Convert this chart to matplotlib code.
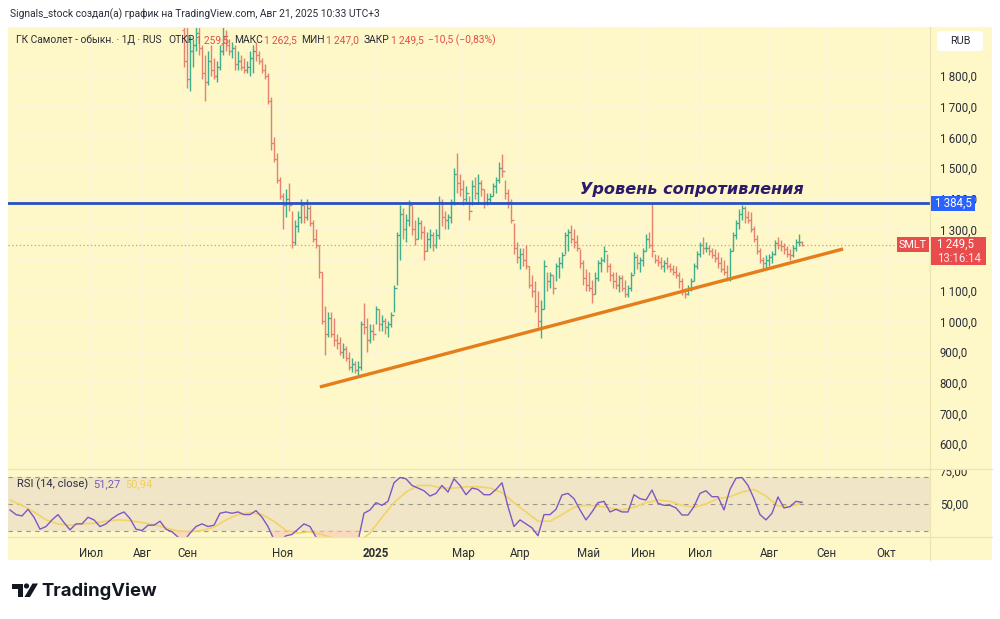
import numpy as np
import matplotlib
matplotlib.use("Agg")
import matplotlib.pyplot as plt
from matplotlib.patches import Rectangle, FancyBboxPatch, Polygon, Circle
from matplotlib.transforms import Affine2D
from matplotlib.lines import Line2D

plt.rcParams['font.family'] = ['Roboto', 'DejaVu Sans']

# ---- data (SMLT, daily) ----
FIRST_BAR = 58        # bar index of first visible price bar (early Sep 2024)
FIRST_OPEN = 1950.0
bar_high = [
    1990, 1960, 1930, 1920, 1990, 1980, 1900, 1870, 1880, 1900,
    1860, 1850, 1900, 1960, 1950, 1920, 1910, 1900, 1880, 1870,
    1860, 1850, 1880, 1900, 1910, 1880, 1860, 1840, 1810, 1730,
    1600, 1550, 1470, 1420, 1430, 1450, 1360, 1330, 1360, 1400,
    1390, 1400, 1380, 1330, 1300, 1250, 1160, 1050, 1030, 1030,
    1010, 960, 950, 930, 920, 900, 880, 870, 870, 1000,
    1060, 1010, 990, 990, 1050, 1040, 1020, 1010, 1000, 1030,
    1120, 1290, 1380, 1370, 1350, 1395, 1380, 1330, 1340, 1330,
    1310, 1290, 1300, 1290, 1300, 1410, 1400, 1360, 1350, 1400,
    1500, 1550, 1480, 1460, 1440, 1410, 1460, 1470, 1480, 1460,
    1430, 1420, 1420, 1450, 1470, 1520, 1545, 1460, 1430, 1400,
    1320, 1260, 1240, 1240, 1250, 1180, 1150, 1130, 1100, 1070,
    1200, 1160, 1160, 1150, 1190, 1210, 1225, 1290, 1300, 1315,
    1300, 1280, 1235, 1200, 1170, 1160, 1135, 1160, 1200, 1210,
    1245, 1220, 1190, 1160, 1160, 1150, 1150, 1135, 1120, 1160,
    1225, 1220, 1210, 1240, 1285, 1290, 1385, 1220, 1215, 1210,
    1200, 1210, 1190, 1185, 1180, 1160, 1140, 1110, 1120, 1140,
    1190, 1230, 1260, 1275, 1260, 1250, 1240, 1235, 1225, 1210,
    1200, 1185, 1240, 1290, 1330, 1365, 1380, 1375, 1360, 1355,
    1310, 1280, 1240, 1210, 1215, 1220, 1230, 1265, 1275, 1265,
    1255, 1245, 1235, 1250, 1270, 1285, 1262.5]
bar_low = [
    1830, 1760, 1750, 1830, 1880, 1870, 1790, 1720, 1770, 1800,
    1790, 1780, 1820, 1870, 1880, 1870, 1860, 1820, 1820, 1820,
    1810, 1810, 1800, 1810, 1850, 1840, 1810, 1790, 1710, 1560,
    1520, 1450, 1400, 1300, 1340, 1360, 1240, 1250, 1290, 1320,
    1320, 1330, 1310, 1260, 1240, 1140, 990, 890, 950, 950,
    920, 910, 890, 880, 870, 840, 835, 830, 825, 840,
    960, 900, 930, 940, 990, 970, 970, 960, 950, 980,
    1030, 1120, 1200, 1270, 1260, 1310, 1280, 1250, 1270, 1270,
    1200, 1230, 1240, 1230, 1240, 1270, 1310, 1300, 1300, 1320,
    1380, 1420, 1410, 1380, 1390, 1330, 1380, 1400, 1390, 1410,
    1370, 1380, 1390, 1410, 1420, 1450, 1470, 1400, 1370, 1320,
    1220, 1190, 1170, 1180, 1170, 1110, 1080, 1030, 980, 945,
    1040, 1100, 1110, 1090, 1130, 1140, 1175, 1220, 1230, 1255,
    1240, 1230, 1175, 1120, 1100, 1100, 1060, 1090, 1130, 1160,
    1195, 1160, 1130, 1110, 1105, 1095, 1100, 1080, 1080, 1100,
    1155, 1170, 1160, 1180, 1230, 1240, 1210, 1190, 1180, 1170,
    1160, 1170, 1160, 1150, 1140, 1110, 1085, 1075, 1085, 1100,
    1130, 1170, 1210, 1220, 1225, 1215, 1205, 1195, 1175, 1160,
    1150, 1130, 1130, 1230, 1270, 1300, 1330, 1320, 1320, 1290,
    1260, 1220, 1190, 1170, 1170, 1180, 1190, 1215, 1235, 1230,
    1220, 1210, 1200, 1210, 1230, 1245, 1247]
bar_close = [
    1850, 1790, 1880, 1900, 1940, 1890, 1810, 1780, 1850, 1820,
    1800, 1830, 1880, 1930, 1900, 1880, 1890, 1840, 1850, 1830,
    1820, 1830, 1860, 1880, 1870, 1850, 1820, 1800, 1720, 1580,
    1530, 1460, 1410, 1380, 1400, 1380, 1260, 1310, 1340, 1380,
    1340, 1370, 1320, 1270, 1250, 1160, 1000, 960, 1010, 960,
    940, 930, 900, 910, 880, 850, 860, 840, 850, 990,
    980, 940, 970, 960, 1040, 990, 1000, 980, 990, 1020,
    1110, 1280, 1350, 1300, 1330, 1380, 1300, 1270, 1320, 1290,
    1230, 1270, 1280, 1250, 1280, 1390, 1340, 1330, 1340, 1390,
    1480, 1450, 1430, 1400, 1420, 1360, 1440, 1420, 1450, 1430,
    1390, 1400, 1410, 1440, 1460, 1500, 1490, 1420, 1390, 1330,
    1240, 1210, 1220, 1200, 1180, 1120, 1100, 1050, 1000, 1040,
    1180, 1130, 1150, 1110, 1180, 1190, 1215, 1280, 1290, 1270,
    1260, 1240, 1190, 1140, 1120, 1110, 1090, 1140, 1190, 1200,
    1230, 1180, 1150, 1130, 1120, 1140, 1110, 1090, 1110, 1150,
    1210, 1190, 1200, 1230, 1270, 1250, 1230, 1200, 1195, 1180,
    1190, 1180, 1170, 1160, 1150, 1130, 1100, 1090, 1110, 1130,
    1180, 1220, 1250, 1240, 1240, 1230, 1215, 1205, 1190, 1170,
    1160, 1140, 1230, 1280, 1320, 1350, 1370, 1340, 1330, 1300,
    1270, 1230, 1200, 1190, 1200, 1210, 1220, 1255, 1250, 1245,
    1235, 1220, 1215, 1240, 1260, 1260, 1249.5]

# RSI(14) read every 2nd bar from bar 0, its MA every 4th bar
RSI_STEP = 2
rsi_values = [
    45.5, 42, 41, 46, 40, 31, 33, 38, 42, 36,
    30.5, 35, 35, 40, 38, 33, 35, 39, 42, 44,
    39, 31, 30, 34, 34, 37, 31, 29, 25, 22,
    28, 33, 35, 33, 34, 43, 44, 43, 44, 42,
    42, 45, 40, 33, 23, 22, 26, 27, 31, 35,
    33, 25, 18, 20, 17, 16, 17, 16, 22, 43,
    45.5, 51, 49, 52, 66, 70, 69, 64, 62, 60,
    56, 58, 64, 59, 69, 64, 57, 62, 61, 57,
    57, 61, 66, 48, 33, 38, 35, 32, 26, 42,
    42, 46, 56.8, 58, 54, 45.5, 38, 44, 51, 52,
    44, 46, 44, 44, 57, 54, 53, 60.5, 50.5, 49,
    49, 47, 41.7, 41.7, 48, 58, 60, 55.5, 55.5, 45.5,
    61, 69.5, 70, 64, 54, 42, 38, 43, 55.3, 47,
    48, 52, 51.27]
MA_STEP = 4
rsi_ma_values = [
    53, 49, 44, 38, 35, 34, 35, 35.5, 37, 38,
    37.5, 36, 34.5, 32, 29.5, 29, 30, 32.5, 38, 42,
    43.5, 42, 37, 30, 28, 29, 27, 24, 21, 21,
    28, 40, 51, 59, 64, 64, 62, 62, 63, 63,
    62, 58.5, 51, 44, 37, 37, 42, 47.5, 49, 48.5,
    47, 45.5, 47.5, 51, 53, 52, 49, 47.5, 50, 54,
    55.5, 59, 61, 56, 48.5, 48, 50.94]

month_ticks = [27, 44, 59, 91, 122, 151, 170, 193, 211, 230, 253, 272, 292]
month_labels = ['Июл', 'Авг', 'Сен', 'Ноя', '2025', 'Мар', 'Апр', 'Май',
                'Июн', 'Июл', 'Авг', 'Сен', 'Окт']
price_ticks = list(range(600, 1900, 100))
hidden_price_labels = [1200]   # covered by the last-price badge

resistance = 1384.5
trend_start = (103.3, 786)
trend_end = (277.7, 1236)
last_open, last_high, last_low, last_close = 1259.5, 1262.5, 1247.0, 1249.5
change, change_pct = -10.5, -0.83

# ---- style ----
BG = '#fef7c8'
GRID = '#fbf4da'
SEP = '#ece2b2'
UP = '#3fae8c'
DOWN = '#e4826f'
TXT = '#2a2e39'
RED_TXT = '#e0504a'

W, H = 1000, 619
fig = plt.figure(figsize=(W / 100, H / 100), dpi=100)
fig.patch.set_facecolor('white')
px = Affine2D().scale(1 / W, -1 / H).translate(0, 1) + fig.transFigure


def box(x0, y0, x1, y1):
    return [x0 / W, 1 - y1 / H, (x1 - x0) / W, (y1 - y0) / H]


def ru_num(v, nd=1):
    return f"{v:,.{nd}f}".replace(",", "\u2009").replace(".", ",").replace("-", "\u2212")


fig.add_artist(Rectangle((8, 27), 984, 533, transform=px, facecolor=BG,
                         edgecolor='none', zorder=-5))

ax = fig.add_axes(box(8, 28, 930, 469))
ax_rsi = fig.add_axes(box(8, 469, 930, 537), sharex=ax)
XLIM = (-0.67, 306.67)

for a in (ax, ax_rsi):
    a.set_facecolor(BG)
    for s in a.spines.values():
        s.set_visible(False)
    a.set_xlim(*XLIM)
    for m in month_ticks:
        a.axvline(m, color=GRID, lw=1.2, zorder=0)

# ---- price pane ----
ax.set_ylim(518.5, 1956.5)
for p in price_ticks:
    ax.axhline(p, color=GRID, lw=1.2, zorder=0)

closes = np.array(bar_close, dtype=float)
highs = np.array(bar_high, dtype=float)
lows = np.array(bar_low, dtype=float)
opens = np.r_[FIRST_OPEN, closes[:-1]]
opens[-1] = last_open
t = FIRST_BAR + np.arange(len(closes))
cols = np.where(closes >= opens, UP, DOWN)
ax.vlines(t, lows, highs, colors=cols, lw=1.0, zorder=3)
ax.hlines(opens, t - 0.6, t, colors=cols, lw=0.9, zorder=3)
ax.hlines(closes, t, t + 0.6, colors=cols, lw=0.9, zorder=3)

ax.axhline(resistance, color='#2650c4', lw=2.0, zorder=4)
ax.plot([trend_start[0], trend_end[0]], [trend_start[1], trend_end[1]],
        color='#e47d1a', lw=2.4, zorder=4, solid_capstyle='butt')
ax.axhline(last_close, color='#c9a77a', lw=0.9, ls=(0, (1, 2)), zorder=2)

ax.yaxis.tick_right()
ax.set_yticks(price_ticks)
ax.set_yticklabels(['' if p in hidden_price_labels else ru_num(p) for p in price_ticks])
ax.tick_params(axis='y', length=0, pad=7, labelsize=8.3, labelcolor=TXT)
ax.tick_params(axis='x', length=0, labelbottom=False)

# ---- RSI pane ----
ax_rsi.set_ylim(25.1, 76.4)
ax_rsi.axhspan(30, 70, color='#f0e5c7', zorder=0, lw=0)
for lvl in (70, 50, 30):
    ax_rsi.axhline(lvl, color='#9b9687', lw=0.8, ls=(0, (4, 4)), zorder=1)
rsi = np.array(rsi_values, dtype=float)
t_rsi = np.arange(len(rsi)) * RSI_STEP
ma = np.array(rsi_ma_values, dtype=float)
t_ma = np.arange(len(ma)) * MA_STEP
ax_rsi.fill_between(t_rsi, rsi, 30, where=rsi < 30, interpolate=True,
                    color='#f6c9b4', alpha=0.6, lw=0, zorder=1)
ax_rsi.fill_between(t_rsi, rsi, 70, where=rsi > 70, interpolate=True,
                    color='#bfe0c4', alpha=0.6, lw=0, zorder=1)
ax_rsi.plot(t_ma, ma, color='#f2d465', lw=1.2, zorder=2)
ax_rsi.plot(t_rsi, rsi, color='#7e57c2', lw=1.0, zorder=3)

ax_rsi.yaxis.tick_right()
ax_rsi.set_yticks([50, 75])
ax_rsi.set_yticklabels([ru_num(50, 2), ru_num(75, 2)])
ax_rsi.tick_params(axis='y', length=0, pad=7, labelsize=8.3, labelcolor=TXT)
ax_rsi.set_xticks(month_ticks)
ax_rsi.set_xticklabels(month_labels)
ax_rsi.tick_params(axis='x', length=0, pad=7, labelsize=8.3, labelcolor=TXT)
for lab in ax_rsi.get_xticklabels():
    if lab.get_text() == '2025':
        lab.set_fontweight('bold')

# hide the top half of the clipped "75,00" label
fig.add_artist(Rectangle((931, 455), 60, 14, transform=px, facecolor=BG,
                         edgecolor='none', zorder=5))

# separators
for (x0, y0, x1, y1) in [(8, 469, 992, 469), (8, 537, 992, 537), (930, 27, 930, 560)]:
    fig.add_artist(Line2D([x0, x1], [y0, y1], transform=px, color=SEP, lw=0.9, zorder=6))

# ---- price scale badges ----
fig.add_artist(FancyBboxPatch((937, 31), 46, 20, transform=px,
                              boxstyle='round,pad=0,rounding_size=3',
                              facecolor='white', edgecolor='none', zorder=7))
fig.text(960 / W, 1 - 41 / H, 'RUB', fontsize=7.8, color=TXT, ha='center', va='center', zorder=8)

fig.add_artist(Rectangle((931, 196), 44, 15, transform=px, facecolor='#2962ff',
                         edgecolor='none', zorder=7))
fig.text(953 / W, 1 - 203.5 / H, ru_num(resistance), fontsize=8.3, color='white',
         ha='center', va='center', zorder=8)

fig.add_artist(Rectangle((931, 237), 55, 28, transform=px, facecolor='#e84c4c',
                         edgecolor='none', zorder=7))
fig.text(937 / W, 1 - 244 / H, ru_num(last_close), fontsize=8.3, color='white',
         ha='left', va='center', zorder=8)
fig.text(937 / W, 1 - 258 / H, '13:16:14', fontsize=8.3, color='#fde3e3',
         ha='left', va='center', zorder=8)
fig.add_artist(Rectangle((897, 237), 32, 15, transform=px, facecolor='#e84c4c',
                         edgecolor='none', zorder=7))
fig.text(913 / W, 1 - 244.5 / H, 'SMLT', fontsize=7.8, color='white',
         ha='center', va='center', zorder=8)

# ---- annotation ----
fig.text(580 / W, 1 - 190 / H, 'Уровень сопротивления', fontsize=11.6,
         fontweight='bold', fontstyle='italic', color='#2e1a6a',
         ha='left', va='center', zorder=8, family=['DejaVu Sans'])

# ---- header / legends ----
fig.text(10 / W, 1 - 14 / H, 'Signals_stock создал(а) график на TradingView.com, '
         'Авг 21, 2025 10:33 UTC+3', fontsize=7.4, color=TXT, ha='left', va='center')

renderer = fig.canvas.get_renderer()


def text_run(x, y, pieces, size):
    for s, c, gap in pieces:
        tx = fig.text(x / W, 1 - y / H, s, fontsize=size, color=c,
                      ha='left', va='center', zorder=9)
        x += tx.get_window_extent(renderer).width + gap


text_run(16, 40, [
    ('ГК Самолет - обыкн. · 1Д · RUS', TXT, 7),
    ('ОТКР', TXT, 1), (ru_num(last_open), RED_TXT, 5),
    ('МАКС', TXT, 1), (ru_num(last_high), RED_TXT, 5),
    ('МИН', TXT, 1), (ru_num(last_low), RED_TXT, 5),
    ('ЗАКР', TXT, 1), (ru_num(last_close), RED_TXT, 5),
    (f"{ru_num(change)} ({ru_num(change_pct, 2)}%)", RED_TXT, 0)], 7.4)

text_run(17, 484, [('RSI (14, close)', TXT, 5),
                   (ru_num(rsi_values[-1], 2), '#7e57c2', 5),
                   (ru_num(rsi_ma_values[-1], 2), '#f0d060', 0)], 8.0)

# ---- TradingView logo ----
fig.add_artist(Polygon([(12, 583.5), (22.5, 583.5), (22.5, 597), (17.5, 597),
                        (17.5, 588.5), (12, 588.5)], closed=True, transform=px,
                       facecolor='#131722', edgecolor='none'))
fig.add_artist(Circle((26.5, 586), 2.6, transform=px, facecolor='#131722', edgecolor='none'))
fig.add_artist(Polygon([(24.5, 597), (32.5, 583.5), (38, 583.5), (30, 597)], closed=True,
                       transform=px, facecolor='#131722', edgecolor='none'))
fig.text(41 / W, 1 - 591 / H, 'TradingView', fontsize=13.3, fontweight='bold',
         color='#131722', ha='left', va='center', family=['Inter', 'DejaVu Sans'])

fig.savefig('out.png', dpi=100, facecolor='white')
